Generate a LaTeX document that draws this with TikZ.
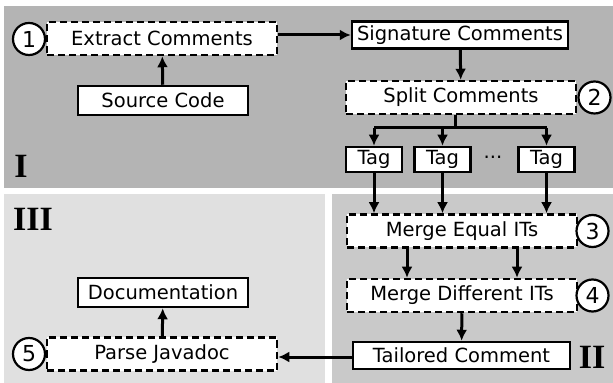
\documentclass[tikz,border=0pt]{standalone}
\usepackage{fontspec}
\setmainfont{DejaVu Sans}
\newfontfamily\phasefont{Liberation Serif}
\usepackage{tikz}
\usetikzlibrary{arrows.meta,positioning,calc}

\definecolor{phaseone}{HTML}{B4B4B4}
\definecolor{phasetwo}{HTML}{C9C9C9}
\definecolor{phasethree}{HTML}{E0E0E0}

\begin{document}
\begin{tikzpicture}[x=0.5pt,y=-0.5pt]
	\tikzset{font=\fontsize{9.75}{11}\selectfont}

	\tikzset{stage/.style = {draw,fill=white,line width=1.25pt,inner sep=0pt,minimum height=13.5pt}}

	\tikzset{process/.style = {stage,dash pattern=on 3.5pt off 2pt,minimum width=115pt,minimum height=16.5pt}}

	\tikzset{badge/.style = {shape=circle,draw,fill=white,line width=1.1pt,minimum size=16pt,inner sep=0pt,font=\fontsize{11}{12}\selectfont}}

	\tikzset{phase/.style = {font=\phasefont\bfseries\fontsize{17}{18}\selectfont}}

	\tikzset{flow/.style = {line width=1.5pt,-{Latex[length=5.5pt,width=5.5pt]}}}

	\useasboundingbox (0,0) rectangle (613,383);

	% phase panels
	\fill[phaseone] (4,6) rectangle (613,188);
	\fill[phasethree] (4,194) rectangle (325,383);
	\fill[phasetwo] (332,194) rectangle (613,383);

	\node[phase] (p1) at (21,166) {I};
	\node[phase] (p2) at (592,357) {II};
	\node[phase] (p3) at (33,219) {III};

	% steps
	\node[process] (extract) at (162,38.5) {Extract Comments};
	\node[stage,minimum width=85pt,minimum height=14.5pt] (source) at (163,100.5) {Source Code};
	\node[stage,minimum width=108pt] (signature) at (460,35) {Signature Comments};
	\node[process] (split) at (461,97.5) {Split Comments};

	\node[stage,minimum width=28pt,minimum height=12.5pt] (tag1) at (374,159.5) {Tag};
	\node[stage,minimum width=28pt,minimum height=12.5pt] (tag2) at (442.5,159.5) {Tag};
	\node[stage,minimum width=28pt,minimum height=12.5pt] (tag3) at (546.5,159.5) {Tag};
	\node (dots) at (493,157) {...};

	\node[process] (mergeeq) at (462,231) {Merge Equal ITs};
	\node[process] (mergediff) at (462,295.5) {Merge Different ITs};
	\node[stage,minimum width=108.5pt] (tailored) at (461.5,355.5) {Tailored Comment};

	\node[process] (parse) at (162,354) {Parse Javadoc};
	\node[stage,minimum width=85pt,minimum height=14.5pt] (doc) at (163,292.5) {Documentation};

	% step numbers
	\node[badge] (n1) at (29,39) {1};
	\node[badge] (n2) at (594.5,97.5) {2};
	\node[badge] (n3) at (592.5,231) {3};
	\node[badge] (n4) at (592.5,295.5) {4};
	\node[badge] (n5) at (29,354) {5};

	% connections
	\coordinate (fork) at (455,128);
	\coordinate (handoff) at ($(tailored.west)+(0,1.5)$);

	\draw[flow] (source) -- (extract);
	\draw[flow] (extract.east |- signature.west) -- (signature.west);
	\draw[flow] (signature) -- (split);

	\draw[line width=1.5pt] (split.south -| fork) -- (fork);
	\draw[line width=1.5pt] (tag1 |- fork) -- (tag3 |- fork);
	\foreach \t in {tag1,tag2,tag3}{
		\draw[flow] (\t |- fork) -- (\t);
		\draw[flow] (\t) -- (\t |- mergeeq.north);
	}

	\draw[flow] ($(mergeeq.south)+(-55,0)$) -- ($(mergediff.north)+(-55,0)$);
	\draw[flow] ($(mergeeq.south)+(55,0)$) -- ($(mergediff.north)+(55,0)$);
	\draw[flow] (mergediff) -- (tailored);

	\draw[flow] (handoff) -- (handoff -| parse.east);
	\draw[flow] (parse) -- (doc);
\end{tikzpicture}
\end{document}
